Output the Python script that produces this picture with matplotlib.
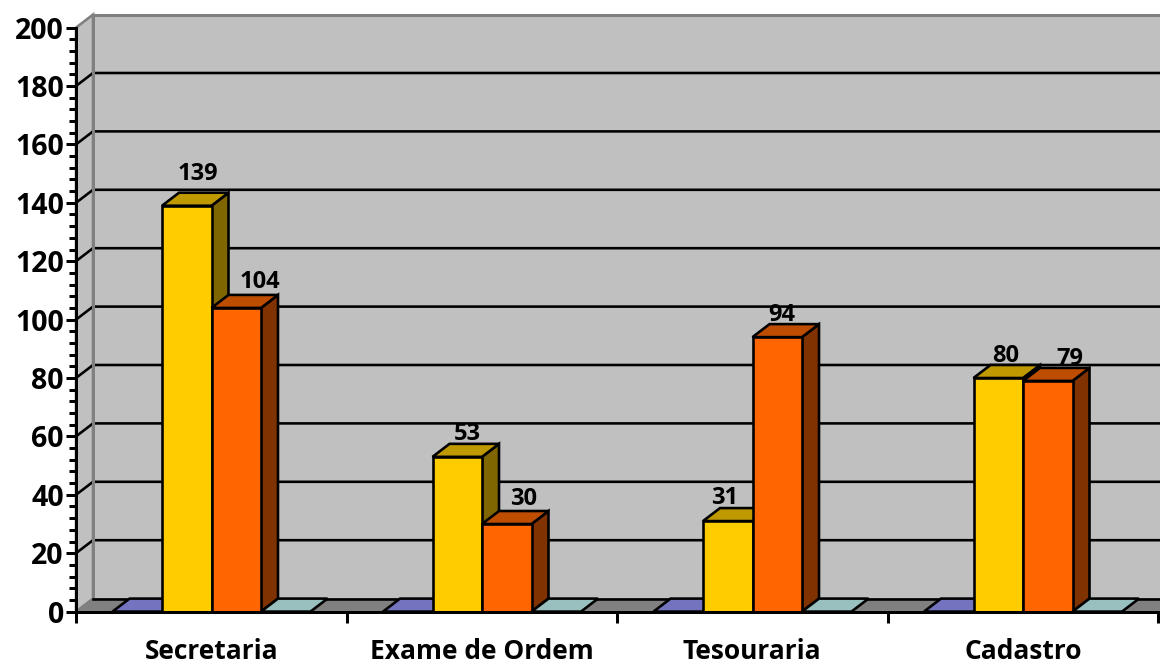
import matplotlib
matplotlib.use('Agg')
import matplotlib.pyplot as plt
from matplotlib.patches import Polygon
from matplotlib.ticker import MultipleLocator

categories = ['Secretaria', 'Exame de Ordem', 'Tesouraria', 'Cadastro']
series_purple = [0, 0, 0, 0]
series_yellow = [139, 53, 31, 80]
series_orange = [104, 30, 94, 79]
series_teal = [0, 0, 0, 0]
y_ticks = [0, 20, 40, 60, 80, 100, 120, 140, 160, 180, 200]

# styles: (front, top, side)
STYLES = [('#7373BF', '#7373BF', '#7373BF'),
          ('#FFCC00', '#BF9900', '#806600'),
          ('#FF6600', '#BF4D00', '#803300'),
          ('#99BFBF', '#99BFBF', '#99BFBF')]
# hand-placed label offsets (px from bar's top-centre) as in the reference
LABEL_OFF = {1: [(11, 32), (10, 23), (-3, 23), (7, 22)],
             2: [(24, 26), (17, 25), (4, 22), (22, 22)]}

plt.rcParams['font.family'] = ['Open Sans', 'DejaVu Sans']
W, H = 1160, 664
L, R, T, B = 76, 1158, 27.6, 611.6
fig = plt.figure(figsize=(W / 100, H / 100), dpi=100)
ax = fig.add_axes([L / W, 1 - B / H, (R - L) / W, (B - T) / H])
ax.set_xlim(0, 4)
ax.set_ylim(0, 200)
px = 72 / 100
LW = 2.6 * px

cw = (R - L) / 4
dx = 17 / cw
dy = 13 / ((B - T) / 200)
w = 49.5 / cw
gap = 36.5 / cw

ax.patch.set_visible(False)
GREY = '#808080'
WALL = '#C0C0C0'
kw = dict(clip_on=False)
# back wall, side wall, floor
ax.add_patch(Polygon([(dx, dy), (4 + dx, dy), (4 + dx, 200 + dy), (dx, 200 + dy)],
                     fc=WALL, ec=GREY, lw=3 * px, zorder=1, **kw))
ax.add_patch(Polygon([(0, 0), (dx, dy), (dx, 200 + dy), (0, 200)],
                     fc=WALL, ec=GREY, lw=2.6 * px, zorder=1, **kw))
ax.add_patch(Polygon([(0, 0), (4, 0), (4 + dx, dy), (dx, dy)],
                     fc=GREY, ec=GREY, lw=1 * px, zorder=1.5, **kw))
# gridlines on side and back walls
for v in y_ticks[1:-1]:
    ax.plot([0, dx, 4 + dx], [v, v + dy, v + dy], color='black', lw=LW,
            zorder=2, solid_joinstyle='miter', **kw)
ax.plot([dx, dx], [dy, 200 + dy], color=GREY, lw=3 * px, zorder=2.1, **kw)
ax.plot([dx, 4 + dx], [dy, dy], color='black', lw=LW, zorder=2.1, **kw)

# bars
all_series = [series_purple, series_yellow, series_orange, series_teal]
z = 3
for c in range(len(categories)):
    for s, vals in enumerate(all_series):
        v = vals[c]
        x0 = c + gap + s * w
        x1 = x0 + w
        front, top, side = STYLES[s]
        pe = dict(ec='black', lw=LW, joinstyle='miter', zorder=z, **kw)
        if v > 0:
            ax.add_patch(Polygon([(x1, 0), (x1 + dx, dy), (x1 + dx, v + dy), (x1, v)], fc=side, **pe))
        ax.add_patch(Polygon([(x0, v), (x1, v), (x1 + dx, v + dy), (x0 + dx, v + dy)], fc=top, **pe))
        if v > 0:
            ax.add_patch(Polygon([(x0, 0), (x1, 0), (x1, v), (x0, v)], fc=front, **pe))
            ox, oy = LABEL_OFF[s][c]
            ax.annotate(str(v), (x0 + w / 2, v), xytext=(ox * px, oy * px),
                        textcoords='offset points', ha='center', va='center',
                        fontsize=17, fontweight='bold', color='black',
                        zorder=20, annotation_clip=False)
        z += 0.1

# axes
for sp in ['top', 'right']:
    ax.spines[sp].set_visible(False)
for sp in ['left', 'bottom']:
    ax.spines[sp].set_linewidth(3 * px)
    ax.spines[sp].set_zorder(30)
ax.set_yticks(y_ticks)
ax.yaxis.set_minor_locator(MultipleLocator(4))
ax.tick_params(axis='y', which='major', length=10 * px, width=3 * px, pad=1.5,
               labelsize=20.5)
ax.tick_params(axis='y', which='minor', length=7 * px, width=3 * px)
for t in ax.get_yticklabels():
    t.set_fontweight('bold')
ax.set_xticks([0, 1, 2, 3, 4])
ax.set_xticklabels([])
ax.tick_params(axis='x', which='major', length=11 * px, width=3 * px)
ax.set_xticks([i + 0.5 for i in range(4)], minor=True)
ax.set_xticklabels(categories, minor=True, fontsize=19, fontweight='bold')
ax.tick_params(axis='x', which='minor', length=0, pad=19)

fig.savefig('out.png', dpi=100)
